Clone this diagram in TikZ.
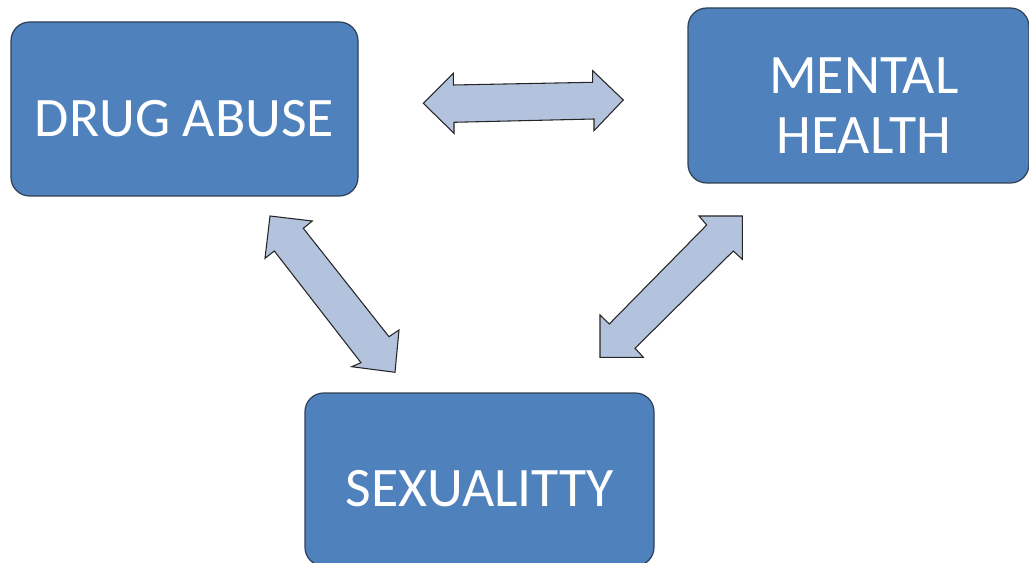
\documentclass[tikz,border=0pt]{standalone}
\usepackage{fontspec}
\setmainfont{Carlito}
\definecolor{boxblue}{HTML}{4F81BD}
\definecolor{boxline}{HTML}{2F3F55}
\definecolor{arrowfill}{HTML}{B3C2DD}
\begin{document}
\begin{tikzpicture}[x=0.75pt,y=-0.75pt,
  box/.style={draw=boxline,line width=0.9pt,fill=boxblue,rounded corners=14pt},
  boxtext/.style={text=white,font=\fontsize{41.8}{45}\selectfont,align=center},
  blockarrow/.style={draw=black!85,line width=0.8pt,fill=arrowfill,line join=miter}]
\useasboundingbox (0,0) rectangle (1029,563);
\clip (0,0) rectangle (1029,563);
% boxes
\draw[box] (11,22) rectangle (358,196);
\draw[box] (688,8) rectangle (1029,183);
\draw[box] (305,393) rectangle (654,566);
\node[boxtext] (drug) at (184.5,119) {DRUG ABUSE};
\node[boxtext] (mental) at (864,106) {MENTAL\\HEALTH};
\node[boxtext] (sex) at (480,489) {SEXUALITTY};
% horizontal double arrow
\draw[blockarrow] (423.3,103.3) -- (453.3,73.3) -- (453.3,85) -- (592.7,82.3) -- (592.7,70.7)
  -- (623.3,100) -- (594,130.7) -- (594,119) -- (454,122.3) -- (454,133.3) -- cycle;
% left diagonal double arrow
\draw[blockarrow] (270,216) -- (312.3,221) -- (303.3,228.3) -- (389,336.7) -- (399,330)
  -- (395,372.3) -- (351.7,366.7) -- (361,362.7) -- (274.3,251) -- (265,258.3) -- cycle;
% right diagonal double arrow
\draw[blockarrow] (742.3,216) -- (742.3,259.3) -- (733.3,251) -- (635,348.3) -- (643.3,357.3)
  -- (600,357.3) -- (600,315) -- (609.3,324) -- (706.7,225) -- (699,216) -- cycle;
\end{tikzpicture}
\end{document}
